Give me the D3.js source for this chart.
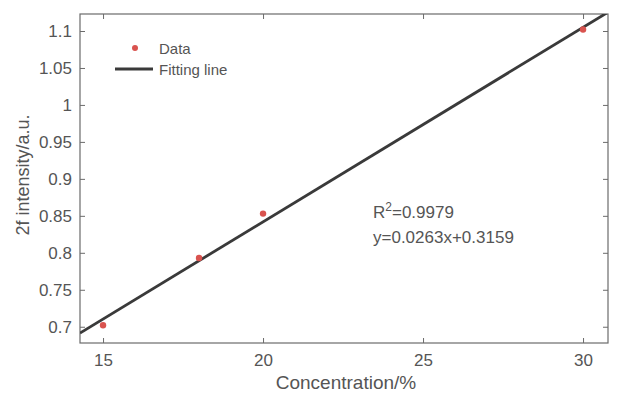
<!DOCTYPE html>
<html><head><meta charset="utf-8">
<script src="https://cdn.jsdelivr.net/npm/d3@7"></script>
<style>html,body{margin:0;padding:0;background:#fff;}svg{display:block;font-family:"Liberation Sans",Arial,sans-serif;}</style>
</head><body>
<svg id="c" width="618" height="394"></svg>
<script>
const concentration = [15, 18, 20, 30];
const intensity = [0.702, 0.793, 0.853, 1.102];
const fitSlope = 0.0263;
const fitIntercept = 0.3159;
const xTicks = [15, 20, 25, 30];
const yTicks = [0.7, 0.75, 0.8, 0.85, 0.9, 0.95, 1, 1.05, 1.1];
const legendLabels = ["Data", "Fitting line"];
const annotations = ["=0.9979", "y=0.0263x+0.3159"];

const svg = d3.select("#c");
const m = {l: 80, t: 14, r: 608, b: 343};
const x = d3.scaleLinear().domain([14.28, 30.78]).range([m.l, m.r]);
const y = d3.scaleLinear().domain([0.678, 1.123]).range([m.b, m.t]);
const axisCol = "#6b6b6b", textCol = "#555";

svg.append("clipPath").attr("id","pc").append("rect")
  .attr("x", m.l).attr("y", m.t).attr("width", m.r-m.l).attr("height", m.b-m.t);

function styleAxis(g, showText){
  g.select(".domain").remove();
  g.selectAll(".tick line").attr("stroke", axisCol);
  g.selectAll(".tick text").attr("fill", textCol).attr("font-size", 17)
    .attr("font-family", "Liberation Sans, Arial, sans-serif");
  if(!showText) g.selectAll(".tick text").remove();
}
svg.append("g").attr("transform", `translate(0,${m.b})`)
  .call(d3.axisBottom(x).tickValues(xTicks).tickSizeInner(-5).tickSizeOuter(0).tickPadding(11).tickFormat(d3.format("d")))
  .call(g=>styleAxis(g,true));
svg.append("g").attr("transform", `translate(0,${m.t})`)
  .call(d3.axisTop(x).tickValues(xTicks).tickSizeInner(-5).tickSizeOuter(0))
  .call(g=>styleAxis(g,false));
svg.append("g").attr("transform", `translate(${m.l},0)`)
  .call(d3.axisLeft(y).tickValues(yTicks).tickSizeInner(-5).tickSizeOuter(0).tickPadding(8).tickFormat(d=>String(+d.toFixed(2))))
  .call(g=>styleAxis(g,true));
svg.append("g").attr("transform", `translate(${m.r},0)`)
  .call(d3.axisRight(y).tickValues(yTicks).tickSizeInner(-5).tickSizeOuter(0))
  .call(g=>styleAxis(g,false));

svg.append("rect").attr("x", m.l).attr("y", m.t).attr("width", m.r-m.l).attr("height", m.b-m.t)
  .attr("fill","none").attr("stroke", axisCol).attr("stroke-width", 1.2);

const xd = x.domain();
const fitPts = [xd[0], xd[1]].map(v => [v, fitSlope*v + fitIntercept]);
svg.append("path").attr("clip-path","url(#pc)")
  .attr("d", d3.line().x(d=>x(d[0])).y(d=>y(d[1]))(fitPts))
  .attr("stroke", "#3a3a3a").attr("stroke-width", 2.8).attr("fill","none");

svg.append("g").selectAll("circle").data(concentration).join("circle")
  .attr("cx", d=>x(d)).attr("cy", (d,i)=>y(intensity[i])).attr("r", 3.2).attr("fill", "#d9534f");

svg.append("circle").attr("cx", 135).attr("cy", 48).attr("r", 3).attr("fill", "#d9534f");
svg.append("line").attr("x1", 115).attr("x2", 153).attr("y1", 69).attr("y2", 69)
  .attr("stroke", "#3a3a3a").attr("stroke-width", 2.8);
svg.append("text").attr("x", 159).attr("y", 54).attr("font-size", 15).attr("fill", textCol).text(legendLabels[0]);
svg.append("text").attr("x", 159).attr("y", 75).attr("font-size", 15).attr("fill", textCol).text(legendLabels[1]);

const t1 = svg.append("text").attr("x", 373).attr("y", 218).attr("font-size", 17).attr("fill", textCol);
t1.append("tspan").text("R");
t1.append("tspan").attr("dy", -7).attr("font-size", 12).text("2");
t1.append("tspan").attr("dy", 7).text(annotations[0]);
svg.append("text").attr("x", 373).attr("y", 243).attr("font-size", 17).attr("fill", textCol).text(annotations[1]);

svg.append("text").attr("x", 346).attr("y", 389).attr("text-anchor","middle")
  .attr("font-size", 19).attr("fill", textCol).text("Concentration/%");
svg.append("text").attr("transform", `translate(29,175) rotate(-90)`).attr("text-anchor","middle")
  .attr("font-size", 18).attr("fill", textCol).text("2f intensity/a.u.");
</script>
</body></html>
